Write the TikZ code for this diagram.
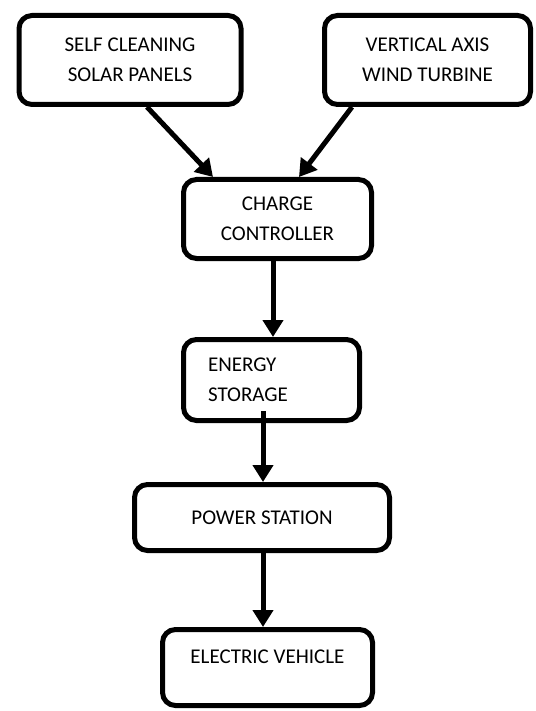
\documentclass[tikz,border=0pt]{standalone}
\usepackage{fontspec}
\setmainfont{Carlito}
\usepackage{tikz}
\usetikzlibrary{shapes,arrows,arrows.meta}
\usetikzlibrary{positioning}
\tikzstyle{block} = [rectangle, draw, line width=5pt, rounded corners=13pt,
    align=center, font=\fontsize{21}{30}\selectfont]
\tikzstyle{line} = [draw, line width=5pt, -{Triangle[length=17pt,width=20pt]}]

\begin{document}
\begin{tikzpicture}[x=1pt,y=1pt]
    \useasboundingbox (0,0) rectangle (535,-711);
    % Place nodes
    \node [block, minimum width=222pt, minimum height=89pt] (solar) at (130,-60) {SELF CLEANING\\SOLAR PANELS};
    \node [block, minimum width=206pt, minimum height=89pt] (wind) at (427.5,-60) {VERTICAL AXIS\\WIND TURBINE};
    \node [block, minimum width=188pt, minimum height=79pt] (charge) at (277.5,-219) {CHARGE\\CONTROLLER};
    \node [block, minimum width=176pt, minimum height=81pt, text width=127pt, align=left] (storage) at (271.5,-380) {ENERGY\\STORAGE};
    \node [block, minimum width=255pt, minimum height=66pt] (power) at (262,-517.5) {POWER STATION};
    \node [block, minimum width=210pt, minimum height=76pt, text depth=21pt] (vehicle) at (267.5,-667.5) {ELECTRIC VEHICLE};

    % Draw edges
    \path [line] ([xshift=17pt]solar.south) -- ([xshift=-64.5pt]charge.north);
    \path [line] ([xshift=-75.5pt]wind.south) -- ([xshift=21.5pt]charge.north);
    \path [line] ([xshift=-4.5pt]charge.south) -- ([xshift=1.5pt]storage.north);
    \path [line] ([xshift=-8.5pt,yshift=12pt]storage.south) -- ([xshift=1pt]power.north);
    \path [line] ([xshift=1pt,yshift=5pt]power.south) -- ([xshift=-4.5pt]vehicle.north);
\end{tikzpicture}
\end{document}
